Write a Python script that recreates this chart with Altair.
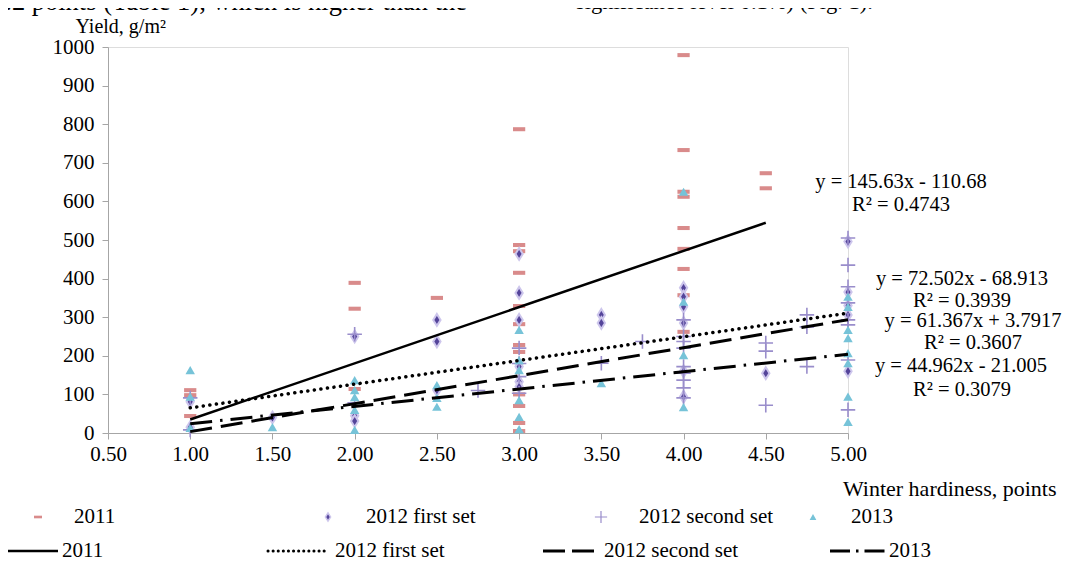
import altair as alt
import pandas as pd

# ---------------- data ----------------
# 2011 (pink dashes)
x_2011 = [1, 1, 1, 2, 2, 2, 2.5,
          3, 3, 3, 3, 3, 3, 3, 3, 3, 3, 3, 3,
          4, 4, 4, 4, 4, 4, 4, 4, 4,
          4.5, 4.5]
y_2011 = [111, 98, 44, 389, 322, 114, 350,
          787, 487, 471, 415, 329, 282, 228, 210, 100, 70, 26, 5,
          979, 733, 625, 612, 531, 477, 425, 357, 262,
          673, 634]

# 2012 first set (diamonds)
x_2012a = [1, 1, 1.5, 2, 2, 2, 2.5, 2.5, 2.5,
           3, 3, 3, 3, 3, 3, 3.5, 3.5,
           4, 4, 4, 4, 4, 4, 4.5,
           5, 5, 5, 5, 5]
y_2012a = [81, 15, 40, 250, 45, 31, 293, 237, 111,
           464, 363, 293, 172, 133, 120, 306, 285,
           376, 353, 327, 285, 160, 94, 155,
           496, 365, 330, 306, 160]

# 2012 second set (plus signs)
x_2012b = [1, 1, 2, 2, 2.75, 3, 3, 3, 3, 3.5, 3.75,
           4, 4, 4, 4, 4, 4, 4, 4, 4,
           4.5, 4.5, 4.5, 4.75, 4.75, 4.75,
           5, 5, 5, 5, 5, 5, 5, 5]
y_2012b = [91, 8, 256, 78, 110, 220, 180, 146, 103, 181, 237,
           293, 250, 237, 220, 172, 155, 137, 117, 91,
           233, 212, 72, 306, 275, 172,
           505, 435, 379, 337, 293, 280, 189, 60]

# 2013 (triangles)
x_2013 = [1, 1, 1, 1.5, 2, 2, 2, 2, 2, 2.5, 2.5, 2.5,
          3, 3, 3, 3, 3, 3, 3.5, 4, 4, 4, 4,
          5, 5, 5, 5, 5, 5, 5, 5]
y_2013 = [163, 94, 13, 15, 137, 111, 93, 60, 8, 124, 91, 68,
          267, 189, 163, 85, 42, 10, 129, 625, 340, 202, 67,
          353, 327, 267, 246, 207, 181, 94, 29]

# trend lines (end points of the fitted lines shown)
trend_2011_x = [1, 4.5]
trend_2011_y = [34.95, 544.66]
trend_2012a_x = [1, 5]
trend_2012a_y = [65.16, 310.63]
trend_2012b_x = [1, 5]
trend_2012b_y = [3.59, 293.60]
trend_2013_x = [1, 5]
trend_2013_y = [23.96, 203.80]

x_ticks = [0.5, 1.0, 1.5, 2.0, 2.5, 3.0, 3.5, 4.0, 4.5, 5.0]
y_ticks = [0, 100, 200, 300, 400, 500, 600, 700, 800, 900, 1000]

equations = ["y = 145.63x - 110.68", "R² = 0.4743",
             "y = 72.502x - 68.913", "R² = 0.3939",
             "y = 61.367x + 3.7917", "R² = 0.3607",
             "y = 44.962x - 21.005", "R² = 0.3079"]

legend_points = ["2011", "2012  first set", "2012  second set", "2013"]
legend_lines = ["2011", "2012  first set", "2012 second set", "2013"]

# ---------------- styling ----------------
FONT = "Liberation Serif"
PINK = "#d98b8b"
DIAM = "#54449a"
DIAM_HALO = "#cdc6ec"
PLUS = "#998dcb"
TRI = "#76c3d8"
AXC = "#a6a6a6"

W, H = 740, 386
xs = alt.Scale(domain=[0.5, 5.0], nice=False, zero=False)
ys = alt.Scale(domain=[0, 1000], nice=False)

xaxis = alt.Axis(values=x_ticks, format=".2f", grid=False, labelFont=FONT,
                 labelFontSize=21, labelColor="black", tickColor=AXC,
                 domainColor=AXC, tickSize=6, labelPadding=4,
                 title="Winter hardiness, points", titleFont=FONT,
                 titleFontSize=22, titleFontWeight="normal", titleColor="black",
                 titleAlign="right", titleX=948, titleY=55,
                 titleBaseline="middle", labelFlush=False)
yaxis = alt.Axis(values=y_ticks, format="d", grid=False, labelFont=FONT,
                 labelFontSize=21, labelColor="black", tickColor=AXC,
                 domainColor=AXC, tickSize=6, labelPadding=8,
                 title="Yield, g/m²", titleFont=FONT, titleFontSize=20,
                 titleFontWeight="normal", titleColor="black", titleAngle=0,
                 titleAlign="left", titleX=-33, titleY=-21,
                 titleBaseline="middle", labelFlush=False)

DASH_SHAPE = "M-1,-0.33L1,-0.33L1,0.33L-1,0.33Z"
DIAM_SHAPE = "M0,-1L0.62,0L0,1L-0.62,0Z"
PLUS_SHAPE = "M-1,0L1,0M0,-1L0,1"


def enc(xv, yv):
    df = pd.DataFrame({"x": xv, "y": yv})
    return alt.Chart(df), dict(x=alt.X("x:Q", scale=xs, axis=xaxis),
                               y=alt.Y("y:Q", scale=ys, axis=yaxis))


c, e = enc(x_2011, y_2011)
p2011 = c.mark_point(shape=DASH_SHAPE, filled=True, size=150, color=PINK,
                     opacity=1).encode(**e)
c, e = enc(x_2012a, y_2012a)
p2012a = c.mark_point(shape=DIAM_SHAPE, filled=True, size=140, fill=DIAM,
                      stroke=DIAM_HALO, strokeWidth=2, opacity=1).encode(**e)
c, e = enc(x_2012b, y_2012b)
p2012b = c.mark_point(shape=PLUS_SHAPE, filled=False, size=210, color=PLUS,
                      strokeWidth=1.6, opacity=1).encode(**e)
c, e = enc(x_2013, y_2013)
p2013 = c.mark_point(shape="triangle-up", filled=True, size=90, color=TRI,
                     opacity=1).encode(**e)

c, e = enc(trend_2011_x, trend_2011_y)
l2011 = c.mark_line(color="black", strokeWidth=2.5).encode(**e)
c, e = enc(trend_2012a_x, trend_2012a_y)
l2012a = c.mark_line(color="black", strokeWidth=3.5, strokeDash=[0.1, 6.5],
                     strokeCap="round").encode(**e)
c, e = enc(trend_2012b_x, trend_2012b_y)
l2012b = c.mark_line(color="black", strokeWidth=3, strokeDash=[22, 9]).encode(**e)
c, e = enc(trend_2013_x, trend_2013_y)
l2013 = c.mark_line(color="black", strokeWidth=3,
                    strokeDash=[22, 8, 2.5, 8]).encode(**e)

one = pd.DataFrame({"a": [0]})


def txt(s, px, py, size=21, align="center"):
    return alt.Chart(one).mark_text(font=FONT, fontSize=size, color="black",
                                    align=align, baseline="middle").encode(
        x=alt.value(px), y=alt.value(py), text=alt.value(s))


eq_pos = [(793, 135), (793, 158), (854, 232), (854, 254),
          (865, 274), (865, 296), (853, 319), (854, 343)]
eq_layers = [txt(s, px, py, size=20.5) for s, (px, py) in zip(equations, eq_pos)]

# legend
R1, R2 = 470, 504
leg = []
leg.append(alt.Chart(one).mark_point(shape=DASH_SHAPE, filled=True, size=64,
                                     color=PINK, opacity=1).encode(
    x=alt.value(-70), y=alt.value(R1)))
leg.append(alt.Chart(one).mark_point(shape=DIAM_SHAPE, filled=True, size=70,
                                     fill=DIAM, stroke=DIAM_HALO,
                                     strokeWidth=1.5, opacity=1).encode(
    x=alt.value(220), y=alt.value(R1)))
leg.append(alt.Chart(one).mark_point(shape=PLUS_SHAPE, filled=False, size=150,
                                     color=PLUS, strokeWidth=1.2,
                                     opacity=1).encode(
    x=alt.value(493), y=alt.value(R1)))
leg.append(alt.Chart(one).mark_point(shape="triangle-up", filled=True,
                                     size=45, color=TRI, opacity=1).encode(
    x=alt.value(705), y=alt.value(R1)))
for s, px in zip(legend_points, [-34, 258, 531, 743]):
    leg.append(txt(s, px, R1, align="left"))

line_styles = [dict(strokeWidth=2.5),
               dict(strokeWidth=3, strokeDash=[0.1, 5], strokeCap="round"),
               dict(strokeWidth=3, strokeDash=[22, 7]),
               dict(strokeWidth=3, strokeDash=[20, 6, 2.5, 6])]
line_pos = [(-108, -50), (160, 220), (435, 493), (722, 777)]
for st, (a, b) in zip(line_styles, line_pos):
    leg.append(alt.Chart(one).mark_rule(color="black", **st).encode(
        x=alt.value(a), x2=alt.value(b), y=alt.value(R2)))
for s, px in zip(legend_lines, [-46, 227, 496, 781]):
    leg.append(txt(s, px, R2, align="left"))

# clipped running text of the page above the figure
top = [txt("4.2 points (Table 1), which is higher than the", -116, -45,
           size=26.5, align="left"),
       txt("significance level 0.1%) (Fig. 1).", 468, -45, size=22.5,
           align="left")]

chart = alt.layer(p2011, p2012a, p2012b, p2013, l2011, l2012a, l2012b, l2013,
                  *eq_layers, *leg, *top).properties(
    width=W, height=H,
    autosize=alt.AutoSizeParams(type="none"),
    padding={"left": 100, "top": 39, "right": 216, "bottom": 130},
).configure_view(stroke=None).configure(
    background="white", font=FONT
).configure_axis(labelFont=FONT, titleFont=FONT).configure_text(font=FONT)

chart.save("out.html", embed_options={"renderer": "svg", "actions": False})
